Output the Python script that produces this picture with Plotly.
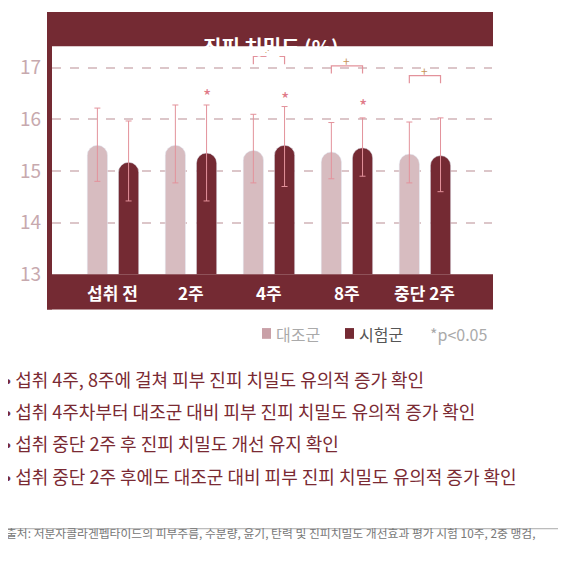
import plotly.graph_objects as go

categories = ["섭취 전", "2주", "4주", "8주", "중단 2주"]
control = [15.50, 15.50, 15.40, 15.37, 15.33]
test = [15.17, 15.35, 15.50, 15.45, 15.30]
control_hi = [16.22, 16.28, 16.10, 15.94, 15.95]
control_lo = [14.80, 14.77, 14.77, 14.85, 14.77]
test_hi = [15.97, 16.28, 16.25, 16.03, 16.03]
test_lo = [14.42, 14.42, 14.70, 14.90, 14.60]
star_idx = [1, 2, 3]
star_y = [16.48, 16.42, 16.28]
bracket_idx = [2, 3, 4]
bracket_top = [17.22, 17.04, 16.85]
bullets = [
    "섭취 4주, 8주에 걸쳐 피부 진피 치밀도 유의적 증가 확인",
    "섭취 4주차부터 대조군 대비 피부 진피 치밀도 유의적 증가 확인",
    "섭취 중단 2주 후 진피 치밀도 개선 유지 확인",
    "섭취 중단 2주 후에도 대조군 대비 피부 진피 치밀도 유의적 증가 확인",
]
source = "출처: 저분자콜라겐펩타이드의 피부주름, 수분량, 윤기, 탄력 및 진피치밀도 개선효과 평가 시험 10주, 2중 맹검,"

W = H = 566
DARK = "#742a33"
PINK = "#d7bcc0"
FONT = "Noto Sans CJK KR"
def px(x): return (x - 8) / W
def py(y): return 1 - (y - 8) / H

xs = list(range(len(categories)))
off = 0.2
fig = go.Figure()
fig.add_bar(x=[x - off for x in xs], y=control, width=0.26, marker=dict(color=PINK, cornerradius="50%"),
            error_y=dict(type="data", symmetric=False,
                         array=[h - v for h, v in zip(control_hi, control)],
                         arrayminus=[v - l for v, l in zip(control, control_lo)],
                         color="#e3929b", thickness=1, width=3))
fig.add_bar(x=[x + off for x in xs], y=test, width=0.26, marker=dict(color=DARK, cornerradius="50%"),
            error_y=dict(type="data", symmetric=False,
                         array=[h - v for h, v in zip(test_hi, test)],
                         arrayminus=[v - l for v, l in zip(test, test_lo)],
                         color="#e3929b", thickness=1, width=3))

shapes = []
ann = []
for i, yv in zip(star_idx, star_y):
    ann.append(dict(x=i + off, y=yv, xref="x", yref="y", text="*", showarrow=False,
                    font=dict(size=18, color="#e07a88", family=FONT)))
for i, t in zip(bracket_idx, bracket_top):
    shapes.append(dict(type="path", xref="x", yref="y",
                       path=f"M {i-off},{t-0.15} L {i-off},{t} L {i+off},{t} L {i+off},{t-0.15}",
                       line=dict(color="#e3929b", width=1.2)))
    ann.append(dict(x=i, y=t + 0.1, xref="x", yref="y", text="+", showarrow=False,
                    font=dict(size=12, color="#c8945a", family=FONT)))

shapes += [
    dict(type="rect", xref="paper", yref="paper", x0=px(47), x1=px(493), y0=py(47), y1=py(12),
         fillcolor=DARK, line_width=0),
    dict(type="rect", xref="paper", yref="paper", x0=px(47), x1=px(493), y0=py(316), y1=py(280),
         fillcolor=DARK, line_width=0),
    dict(type="rect", xref="paper", yref="paper", x0=px(47), x1=px(52), y0=py(316), y1=py(12),
         fillcolor=DARK, line_width=0),
    dict(type="line", xref="paper", yref="paper", x0=px(3), x1=px(562), y0=py(540), y1=py(540),
         line=dict(color="#aaaaaa", width=1)),
    dict(type="rect", xref="paper", yref="paper", x0=px(262), x1=px(271), y0=py(346), y1=py(335),
         fillcolor="#c9a0a7", line_width=0),
    dict(type="rect", xref="paper", yref="paper", x0=px(345), x1=px(354), y0=py(346), y1=py(335),
         fillcolor=DARK, line_width=0),
]
ann.append(dict(x=px(270), y=py(30), xref="paper", yref="paper", text="<b>진피 치밀도 (%)</b>",
                showarrow=False, font=dict(size=20, color="white", family=FONT)))
for i, c in enumerate(categories):
    ann.append(dict(x=i, y=py(299), xref="x", yref="paper", text=f"<b>{c}</b>", showarrow=False,
                    font=dict(size=17, color="white", family=FONT)))
ann += [
    dict(x=px(274), y=py(341), xref="paper", yref="paper", text="대조군", xanchor="left", showarrow=False,
         font=dict(size=16, color="#aaaaaa", family=FONT)),
    dict(x=px(357), y=py(341), xref="paper", yref="paper", text="시험군", xanchor="left", showarrow=False,
         font=dict(size=16, color="#555555", family=FONT)),
    dict(x=px(428), y=py(341), xref="paper", yref="paper", text="*p&lt;0.05", xanchor="left", showarrow=False,
         font=dict(size=16, color="#aaaaaa", family=FONT)),
]
for k, b in enumerate(bullets):
    ann.append(dict(x=px(3), y=py(402 + 33 * k), xref="paper", yref="paper", text="• " + b,
                    xanchor="left", showarrow=False, font=dict(size=18, color="#7a2a33", family=FONT)))
ann.append(dict(x=px(4), y=py(555), xref="paper", yref="paper", text=source, xanchor="left",
                showarrow=False, font=dict(size=11.8, color="#777777", family=FONT)))

fig.update_layout(
    width=W, height=H, margin=dict(l=0, r=0, t=0, b=0), paper_bgcolor="white", plot_bgcolor="rgba(0,0,0,0)",
    showlegend=False, barmode="overlay", font=dict(family=FONT),
    xaxis=dict(domain=[px(52), px(492)], range=[-0.782, 4.86], showticklabels=False, showgrid=False,
               zeroline=False),
    yaxis=dict(domain=[py(280), py(47)], range=[13, 17.42], tickvals=[13, 14, 15, 16, 17],
               tickfont=dict(size=19, color="#c7a9ae", family=FONT), ticklabelstandoff=10,
               showgrid=True, gridcolor="#dcc6c9", griddash="dash", gridwidth=1.5, zeroline=False),
    shapes=shapes, annotations=ann,
)
fig.write_html("out.html")
